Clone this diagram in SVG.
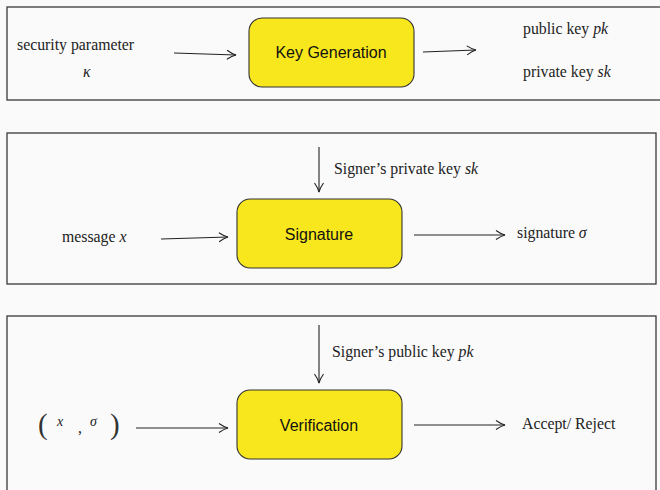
<svg xmlns="http://www.w3.org/2000/svg" width="660" height="490" viewBox="0 0 660 490">
  <defs>
    <!-- open, slightly curved arrow tip -->
    <marker id="tip" viewBox="-10 -6 12 12" refX="0" refY="0" markerWidth="12" markerHeight="12" markerUnits="userSpaceOnUse" orient="auto">
      <path d="M-9,-4.5 Q-4,-1 0,0 Q-4,1 -9,4.5" fill="none" stroke="#222" stroke-width="1.1"/>
    </marker>
  </defs>
  <style>
    .panel { fill: none; stroke: #3a3a3a; stroke-width: 1.3; }
    .box { fill: #f8e71c; stroke: #333; stroke-width: 1.1; }
    .boxlabel { font-family: "Liberation Sans", "DejaVu Sans", sans-serif; font-size: 16px; fill: #111; text-anchor: middle; }
    .lbl { font-family: "Liberation Serif", "DejaVu Serif", serif; font-size: 15.8px; fill: #222; }
    .it { font-style: italic; }
    .small { font-size: 14px; }
    .paren { font-size: 29px; fill: #333; }
    .conn line { stroke: #222; stroke-width: 1.1; marker-end: url(#tip); }
  </style>

  <rect width="660" height="490" fill="#fafafa"/>

  <!-- section frames -->
  <rect class="panel" x="7" y="7" width="660" height="93"/>
  <rect class="panel" x="7" y="133" width="649" height="151"/>
  <rect class="panel" x="7" y="316" width="649" height="190"/>

  <!-- key generation -->
  <g id="keygen">
    <rect class="box" x="249" y="18" width="165" height="69" rx="13"/>
    <text class="boxlabel" x="331" y="58">Key Generation</text>
  </g>
  <g id="keygen-input">
    <text class="lbl" x="17" y="50">security parameter</text>
    <text class="lbl it" x="83" y="77">κ</text>
  </g>
  <g id="keygen-output">
    <text class="lbl" x="523" y="34">public key <tspan class="it">pk</tspan></text>
    <text class="lbl" x="523" y="77">private key <tspan class="it">sk</tspan></text>
  </g>

  <!-- signature -->
  <g id="sign">
    <rect class="box" x="237" y="199" width="165" height="69" rx="13"/>
    <text class="boxlabel" x="319" y="240">Signature</text>
  </g>
  <g id="sign-key">
    <text class="lbl" x="334" y="174">Signer’s private key <tspan class="it">sk</tspan></text>
  </g>
  <g id="sign-input">
    <text class="lbl" x="62" y="242">message <tspan class="it">x</tspan></text>
  </g>
  <g id="sign-output">
    <text class="lbl" x="517" y="238">signature <tspan class="it">σ</tspan></text>
  </g>

  <!-- verification -->
  <g id="verify">
    <rect class="box" x="237" y="390" width="165" height="69" rx="13"/>
    <text class="boxlabel" x="319" y="431">Verification</text>
  </g>
  <g id="verify-key">
    <text class="lbl" x="332" y="357">Signer’s public key <tspan class="it">pk</tspan></text>
  </g>
  <g id="verify-input">
    <text class="lbl paren" x="38" y="434">(</text>
    <text class="lbl it small" x="57" y="426">x</text>
    <text class="lbl" x="78" y="433">,</text>
    <text class="lbl it small" x="90" y="426">σ</text>
    <text class="lbl paren" x="110" y="434">)</text>
  </g>
  <g id="verify-output">
    <text class="lbl" x="522" y="429">Accept/ Reject</text>
  </g>

  <!-- connectors -->
  <g class="conn">
    <line x1="174" y1="53" x2="236" y2="55"/>
    <line x1="423" y1="52" x2="476" y2="50"/>
    <line x1="319" y1="147" x2="319" y2="192"/>
    <line x1="161" y1="239" x2="228" y2="237"/>
    <line x1="414" y1="235" x2="505" y2="235"/>
    <line x1="319" y1="325" x2="319" y2="383"/>
    <line x1="136" y1="428" x2="228" y2="428"/>
    <line x1="414" y1="425" x2="505" y2="425"/>
  </g>
</svg>
